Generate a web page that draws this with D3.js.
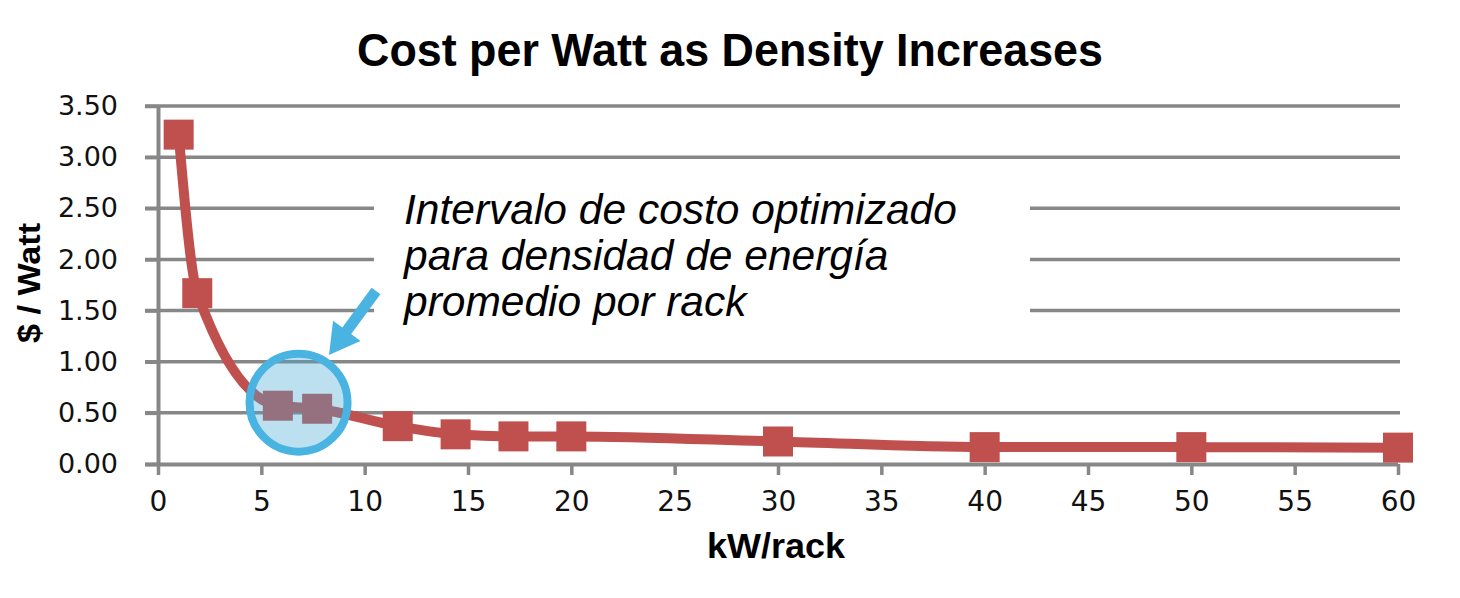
<!DOCTYPE html>
<html>
<head>
<meta charset="utf-8">
<script src="https://cdn.jsdelivr.net/npm/d3@7"></script>
<style>
  html, body { margin: 0; padding: 0; background: #ffffff; }
  svg { display: block; }
</style>
</head>
<body>
<svg id="chart" width="1460" height="598"></svg>
<script>
// ---- data ----
const kwPerRack = [1, 1.9, 5.8, 7.7, 11.6, 14.4, 17.2, 20, 30, 40, 50, 60];
const costPerWatt = [3.22, 1.67, 0.57, 0.54, 0.37, 0.29, 0.27, 0.27, 0.22, 0.165, 0.165, 0.16];
const xTicks = [0, 5, 10, 15, 20, 25, 30, 35, 40, 45, 50, 55, 60];
const yTicks = [0, 0.5, 1.0, 1.5, 2.0, 2.5, 3.0, 3.5];
const titleText = "Cost per Watt as Density Increases";
const xTitle = "kW/rack";
const yTitle = "$ / Watt";
const noteLines = ["Intervalo de costo optimizado", "para densidad de energía", "promedio por rack"];
const highlight = { x: 6.8, y: 0.6 }; // circled region (data coords)

const svg = d3.select("#chart");
const x = d3.scaleLinear().domain([0, 60]).range([158, 1398]);
const y = d3.scaleLinear().domain([0, 3.5]).range([464, 106]);

const grey = "#878787";
const red = "#C0504D";
const blue = "#49B3E2";

// gridlines
svg.append("g").selectAll("line").data(yTicks.filter(d => d > 0)).join("line")
  .attr("x1", 145).attr("x2", 1400)
  .attr("y1", d => y(d)).attr("y2", d => y(d))
  .attr("stroke", grey).attr("stroke-width", 3.5);

// white box breaking the gridlines behind the note
svg.append("rect").attr("x", 374).attr("y", 180).attr("width", 656).attr("height", 158).attr("fill", "#fff");

// y axis
const yAxis = svg.append("g").attr("transform", `translate(${x(0)},0)`)
  .call(d3.axisLeft(y).tickValues(yTicks).tickFormat(d3.format(".2f")).tickSize(13).tickSizeOuter(0));
yAxis.select(".domain").attr("stroke", grey).attr("stroke-width", 4);
yAxis.selectAll(".tick line").attr("stroke", grey).attr("stroke-width", 3.5);
yAxis.selectAll(".tick text").attr("x", -40).attr("fill", "#111")
  .style("font-family", "'DejaVu Sans', sans-serif").style("font-size", "27px");

// x axis
const xAxis = svg.append("g").attr("transform", `translate(0,${y(0)})`)
  .call(d3.axisBottom(x).tickValues(xTicks).tickFormat(d3.format("d")).tickSize(11).tickSizeOuter(0));
xAxis.select(".domain").attr("stroke", grey).attr("stroke-width", 4).attr("d", `M145,0.5H${x(60)}`);
xAxis.selectAll(".tick line").attr("stroke", grey).attr("stroke-width", 3.5);
xAxis.selectAll(".tick text").attr("y", 38).attr("dy", "0.32em").attr("fill", "#111")
  .style("font-family", "'DejaVu Sans', sans-serif").style("font-size", "28px");

// series line
const pts = kwPerRack.map((k, i) => [k, costPerWatt[i]]);
svg.append("path").datum(pts)
  .attr("d", d3.line().x(d => x(d[0])).y(d => y(d[1])).curve(d3.curveMonotoneX))
  .attr("fill", "none").attr("stroke", red).attr("stroke-width", 10);

// markers
const ms = 30;
svg.append("g").selectAll("rect").data(pts).join("rect")
  .attr("x", d => x(d[0]) - ms / 2).attr("y", d => y(d[1]) - ms / 2)
  .attr("width", ms).attr("height", ms).attr("fill", red);

// highlight circle
svg.append("circle").attr("cx", x(highlight.x)).attr("cy", y(highlight.y)).attr("r", 49)
  .attr("fill", "rgba(74,170,214,0.365)").attr("stroke", blue).attr("stroke-width", 8);

// arrow
(function () {
  const sx = 376, sy = 291, tx = 329, ty = 355;
  const L = Math.hypot(tx - sx, ty - sy);
  const ux = (tx - sx) / L, uy = (ty - sy) / L;
  const nx = -uy, ny = ux;
  const hw = 5.5, hh = 17, hl = 30;
  const bx = tx - ux * hl, by = ty - uy * hl;
  const poly = [
    [sx + nx * hw, sy + ny * hw], [bx + nx * hw, by + ny * hw], [bx + nx * hh, by + ny * hh],
    [tx, ty], [bx - nx * hh, by - ny * hh], [bx - nx * hw, by - ny * hw], [sx - nx * hw, sy - ny * hw]
  ];
  svg.append("polygon").attr("points", poly.map(p => p.join(",")).join(" ")).attr("fill", blue);
})();

// note text
svg.append("g").selectAll("text").data(noteLines).join("text")
  .attr("x", 404).attr("y", (d, i) => 224 + i * 46)
  .attr("fill", "#000")
  .style("font-family", "'Liberation Sans', Arial, sans-serif").style("font-style", "italic")
  .style("font-size", "42.5px")
  .text(d => d);

// title
svg.append("text").attr("x", 730).attr("y", 66).attr("text-anchor", "middle")
  .attr("textLength", 746).attr("lengthAdjust", "spacingAndGlyphs")
  .style("font-family", "'Liberation Sans', Arial, sans-serif").style("font-weight", "bold")
  .style("font-size", "46px").attr("fill", "#000").text(titleText);

// x axis title
svg.append("text").attr("x", 776).attr("y", 558).attr("text-anchor", "middle")
  .attr("textLength", 138).attr("lengthAdjust", "spacingAndGlyphs")
  .style("font-family", "'Liberation Sans', Arial, sans-serif").style("font-weight", "bold")
  .style("font-size", "35px").attr("fill", "#000").text(xTitle);

// y axis title
svg.append("text").attr("transform", "translate(40,283) rotate(-90)").attr("text-anchor", "middle")
  .attr("textLength", 120).attr("lengthAdjust", "spacingAndGlyphs")
  .style("font-family", "'Liberation Sans', Arial, sans-serif").style("font-weight", "bold")
  .style("font-size", "32px").attr("fill", "#000").text(yTitle);
</script>
</body>
</html>
